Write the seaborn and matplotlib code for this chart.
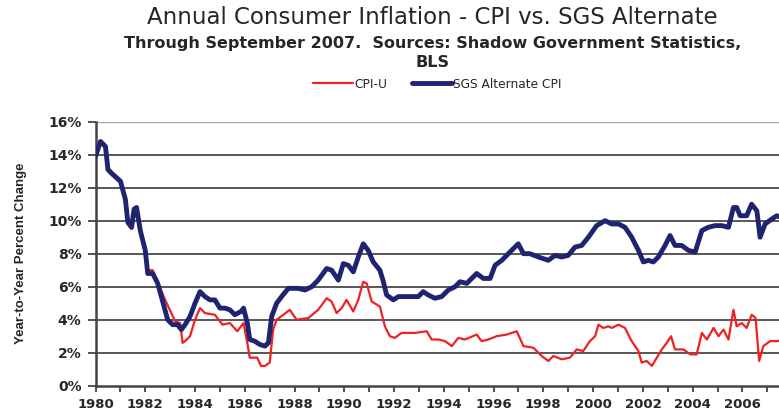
import numpy as np
import pandas as pd
import matplotlib
matplotlib.use("Agg")
import matplotlib.pyplot as plt
import seaborn as sns

# CPI-U, year-to-year % change
cpi_years = [1980.0, 1980.2, 1980.4, 1980.5, 1980.7, 1981.0, 1981.2, 1981.3, 1981.45, 1981.55,
             1981.65, 1981.8, 1982.0, 1982.1, 1982.3, 1982.8, 1983.2, 1983.4, 1983.5, 1983.6,
             1983.8, 1984.0, 1984.2, 1984.4, 1984.8, 1985.1, 1985.4, 1985.7, 1985.95, 1986.1,
             1986.2, 1986.5, 1986.65, 1986.81, 1987.0, 1987.14, 1987.28, 1987.55, 1987.81, 1988.08,
             1988.55, 1988.95, 1989.29, 1989.49, 1989.69, 1989.89, 1990.09, 1990.36, 1990.56, 1990.76,
             1990.9, 1991.1, 1991.43, 1991.63, 1991.83, 1992.03, 1992.3, 1992.84, 1993.31, 1993.51,
             1993.78, 1994.05, 1994.32, 1994.58, 1994.85, 1995.32, 1995.52, 1995.79, 1996.12, 1996.53,
             1996.93, 1997.2, 1997.6, 1997.93, 1998.2, 1998.4, 1998.74, 1999.07, 1999.34, 1999.6,
             1999.87, 2000.08, 2000.21, 2000.41, 2000.61, 2000.75, 2001.02, 2001.28, 2001.55, 2001.82,
             2001.95, 2002.15, 2002.36, 2002.56, 2002.76, 2002.96, 2003.13, 2003.29, 2003.63, 2003.9,
             2004.16, 2004.37, 2004.57, 2004.84, 2005.04, 2005.24, 2005.44, 2005.64, 2005.77, 2005.97,
             2006.17, 2006.37, 2006.53, 2006.67, 2006.84, 2007.11, 2007.38, 2007.7]
cpi_vals = [13.9, 14.7, 14.4, 13.0, 12.7, 12.3, 11.2, 9.8, 9.5, 10.6,
            10.7, 9.3, 8.1, 7.0, 7.0, 5.2, 3.9, 3.8, 2.6, 2.7,
            3.0, 4.0, 4.7, 4.4, 4.3, 3.7, 3.8, 3.3, 3.8, 2.6,
            1.7, 1.7, 1.2, 1.2, 1.4, 3.4, 4.0, 4.3, 4.6, 4.0,
            4.1, 4.6, 5.3, 5.1, 4.4, 4.7, 5.2, 4.5, 5.2, 6.3,
            6.2, 5.1, 4.8, 3.6, 3.0, 2.9, 3.2, 3.2, 3.3, 2.8,
            2.8, 2.7, 2.4, 2.9, 2.8, 3.1, 2.7, 2.8, 3.0, 3.1,
            3.3, 2.4, 2.3, 1.8, 1.5, 1.8, 1.6, 1.7, 2.2, 2.1,
            2.7, 3.0, 3.7, 3.5, 3.6, 3.5, 3.7, 3.5, 2.7, 2.1,
            1.4, 1.5, 1.2, 1.7, 2.2, 2.6, 3.0, 2.2, 2.2, 1.9,
            1.9, 3.2, 2.8, 3.5, 3.0, 3.4, 2.8, 4.6, 3.6, 3.8,
            3.5, 4.3, 4.1, 1.5, 2.4, 2.7, 2.7, 2.8]

# SGS Alternate CPI, year-to-year % change
sgs_years = [1980.0, 1980.2, 1980.4, 1980.5, 1980.7, 1981.0, 1981.2, 1981.3, 1981.45, 1981.55,
             1981.65, 1981.8, 1982.0, 1982.1, 1982.3, 1982.5, 1982.7, 1982.9, 1983.1, 1983.3,
             1983.45, 1983.6, 1983.8, 1984.0, 1984.2, 1984.4, 1984.6, 1984.8, 1985.0, 1985.2,
             1985.4, 1985.6, 1985.85, 1985.95, 1986.1, 1986.2, 1986.4, 1986.6, 1986.81, 1986.95,
             1987.08, 1987.28, 1987.48, 1987.75, 1988.15, 1988.42, 1988.69, 1988.95, 1989.29, 1989.49,
             1989.76, 1989.96, 1990.16, 1990.36, 1990.56, 1990.76, 1990.96, 1991.16, 1991.43, 1991.57,
             1991.7, 1991.97, 1992.17, 1992.7, 1992.97, 1993.17, 1993.37, 1993.64, 1993.91, 1994.18,
             1994.45, 1994.65, 1994.92, 1995.32, 1995.59, 1995.86, 1996.06, 1996.33, 1996.59, 1996.99,
             1997.2, 1997.46, 1997.8, 1998.2, 1998.47, 1998.74, 1999.0, 1999.27, 1999.54, 1999.81,
             2000.14, 2000.48, 2000.75, 2001.02, 2001.28, 2001.55, 2001.82, 2002.02, 2002.22, 2002.42,
             2002.62, 2002.89, 2003.09, 2003.29, 2003.56, 2003.83, 2004.1, 2004.37, 2004.63, 2004.9,
             2005.17, 2005.44, 2005.64, 2005.77, 2005.91, 2006.17, 2006.37, 2006.58, 2006.71, 2006.91,
             2007.18, 2007.38, 2007.55, 2007.7]
sgs_vals = [13.9, 14.8, 14.5, 13.1, 12.8, 12.4, 11.3, 9.9, 9.6, 10.7,
            10.8, 9.4, 8.2, 6.8, 6.8, 6.2, 5.1, 4.0, 3.7, 3.7,
            3.4, 3.7, 4.2, 5.0, 5.7, 5.4, 5.2, 5.2, 4.7, 4.7,
            4.6, 4.3, 4.5, 4.7, 3.8, 2.8, 2.7, 2.5, 2.4, 2.6,
            4.2, 5.0, 5.4, 5.9, 5.9, 5.8, 6.0, 6.4, 7.1, 7.0,
            6.4, 7.4, 7.3, 6.9, 7.8, 8.6, 8.2, 7.5, 7.0, 6.3,
            5.5, 5.2, 5.4, 5.4, 5.4, 5.7, 5.5, 5.3, 5.4, 5.8,
            6.0, 6.3, 6.2, 6.8, 6.5, 6.5, 7.3, 7.6, 8.0, 8.6,
            8.0, 8.0, 7.8, 7.6, 7.9, 7.8, 7.9, 8.4, 8.5, 9.0,
            9.7, 10.0, 9.8, 9.8, 9.6, 9.0, 8.2, 7.5, 7.6, 7.5,
            7.8, 8.5, 9.1, 8.5, 8.5, 8.2, 8.1, 9.4, 9.6, 9.7,
            9.7, 9.6, 10.8, 10.8, 10.3, 10.3, 11.0, 10.6, 9.0, 9.8,
            10.1, 10.3, 10.2, 10.1]

cpi = pd.DataFrame({"year": cpi_years, "pct": cpi_vals})
sgs = pd.DataFrame({"year": sgs_years, "pct": sgs_vals})

sns.set_style("white")
plt.rcParams["font.family"] = ["DejaVu Sans"]

fig = plt.figure(figsize=(7.79, 4.16), dpi=100)
ax = fig.add_axes([0.1226, 0.0728, 0.8774, 0.6347])

ax.set_ylim(0, 16)
ax.set_xlim(1980, 2007.47)
# horizontal gridlines every 2%
for v in range(2, 16, 2):
    ax.axhline(v, color="#2a2a2a", lw=1.1, zorder=1)
ax.axhline(16, color="#aaaaaa", lw=1.0, zorder=1)

sns.lineplot(data=cpi, x="year", y="pct", ax=ax, color="#ee2222", lw=1.6,
             estimator=None, sort=False, label="CPI-U", zorder=3)
sns.lineplot(data=sgs, x="year", y="pct", ax=ax, color="#1f2470", lw=3.5,
             estimator=None, sort=False, label="SGS Alternate CPI", zorder=4)

ax.set_yticks(range(0, 17, 2))
ax.set_yticklabels([f"{v}%" for v in range(0, 17, 2)], fontsize=10, fontweight="bold")
ax.set_xticks(range(1980, 2008))
ax.set_xticklabels([str(y) if y % 2 == 0 else "" for y in range(1980, 2008)],
                   fontsize=9.5, fontweight="bold")
ax.tick_params(axis="y", direction="out", length=6, width=1.2, color="#333333",
               left=True, pad=4)
ax.tick_params(axis="x", direction="out", length=4, width=1.2, color="#333333",
               bottom=True, pad=5)
ax.set_xlabel("")
ax.set_ylabel("Year-to-Year Percent Change", fontsize=9.5, fontweight="bold",
              family="Liberation Sans", labelpad=15)

for side in ["top", "right"]:
    ax.spines[side].set_visible(False)
for side in ["left", "bottom"]:
    ax.spines[side].set_color("#444444")
    ax.spines[side].set_linewidth(1.8)

fig.text(0.555, 0.942, "Annual Consumer Inflation - CPI vs. SGS Alternate",
         ha="center", va="baseline", fontsize=16.5)
fig.text(0.555, 0.885, "Through September 2007.  Sources: Shadow Government Statistics,",
         ha="center", va="baseline", fontsize=11.5, fontweight="bold")
fig.text(0.555, 0.839, "BLS", ha="center", va="baseline", fontsize=11.5, fontweight="bold")

leg = ax.legend(loc="center", bbox_to_anchor=(0.50, 1.1425), ncol=2, frameon=False,
                prop={"family": "DejaVu Sans", "size": 8.8},
                handlelength=3.3, handletextpad=0.1, columnspacing=2.0)

fig.savefig("out.png", dpi=100)
